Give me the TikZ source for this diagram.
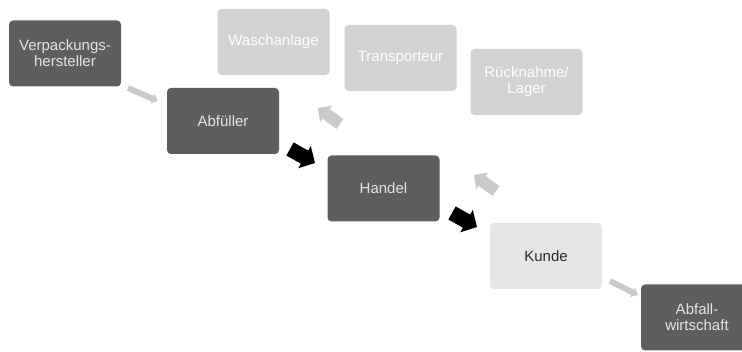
\documentclass[tikz,border=0pt]{standalone}
\usepackage{fontspec}
\setmainfont{Liberation Sans}
\usetikzlibrary{arrows.meta}
\definecolor{boxdark}{HTML}{5E5E5E}
\definecolor{boxlight}{HTML}{D2D2D2}
\definecolor{boxpale}{HTML}{E6E6E6}
\definecolor{textlight}{HTML}{E4E4E4}
\definecolor{textdark}{HTML}{2B2B2B}
\definecolor{arrowlight}{HTML}{C9C9C9}

\begin{document}
\begin{tikzpicture}[x=1pt,y=-1pt,
    stufe/.style={rounded corners=4pt,minimum width=112pt,minimum height=66pt,
        align=center,inner sep=2pt,font=\fontsize{15}{16}\selectfont},
    dunkel/.style={stufe,fill=boxdark,text=textlight},
    hell/.style={stufe,fill=boxlight,text=white},
    blass/.style={stufe,fill=boxpale,text=textdark},
    hauptpfeil/.style={draw=black,line width=15pt,-{Triangle[length=12pt,width=25pt]}},
    rueckpfeil/.style={draw=arrowlight,line width=12pt,-{Triangle[length=10pt,width=20pt]}},
    nebenpfeil/.style={draw=arrowlight,line width=6pt,-{Triangle[length=6pt,width=10pt]}}]
    \useasboundingbox (0,0) rectangle (742,352);
    \clip (0,0) rectangle (742,352);
    %vorwaerts
    \node[dunkel] (verp) at (65,53.5) {Verpackungs-\\hersteller};
    \node[dunkel] (abf) at (223,121) {Abfüller};
    \node[dunkel] (handel) at (383.5,188.5) {Handel};
    \node[blass] (kunde) at (546,256) {Kunde};
    \node[dunkel] (abfall) at (697,317.5) {Abfall-\\wirtschaft};
    %rueckweg
    \node[hell] (wasch) at (273.5,42) {Waschanlage};
    \node[hell] (transp) at (400.5,58) {Transporteur};
    \node[hell] (rueck) at (526.5,82) {Rücknahme/\\Lager};
    %pfeile
    \coordinate (p1a) at (128,88);  \coordinate (p1b) at (158,101);
    \coordinate (p2a) at (290,149); \coordinate (p2b) at (315,163);
    \coordinate (p3a) at (452,213); \coordinate (p3b) at (477,227);
    \coordinate (p4a) at (610,281); \coordinate (p4b) at (638,295);
    \coordinate (r1a) at (340,124); \coordinate (r1b) at (318,108);
    \coordinate (r2a) at (496,191); \coordinate (r2b) at (474,175);
    \draw[nebenpfeil] (p1a) -- (p1b);
    \draw[hauptpfeil] (p2a) -- (p2b);
    \draw[hauptpfeil] (p3a) -- (p3b);
    \draw[nebenpfeil] (p4a) -- (p4b);
    \draw[rueckpfeil] (r1a) -- (r1b);
    \draw[rueckpfeil] (r2a) -- (r2b);
\end{tikzpicture}
\end{document}
